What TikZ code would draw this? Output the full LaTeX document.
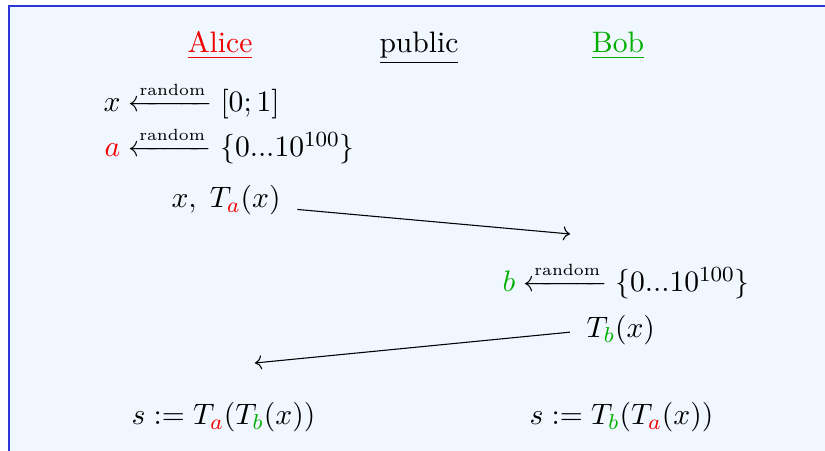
\documentclass[tikz,border=0pt,11pt]{standalone}
\usepackage{amsmath}
\usetikzlibrary{arrows.meta}
\definecolor{alicered}{RGB}{240,0,0}
\definecolor{bobgreen}{RGB}{0,175,0}
\definecolor{boxfill}{RGB}{240,247,255}
\definecolor{boxblue}{RGB}{45,55,215}
\newcommand{\keya}{{\color{alicered}a}}
\newcommand{\keyb}{{\color{bobgreen}b}}
\newcommand{\rnd}{\xleftarrow{\text{\tiny random}}}

\begin{document}
\begin{tikzpicture}[x=0.37pt,y=-0.37pt,>=To,txt/.style={inner sep=0pt,anchor=base west}]
\useasboundingbox (0,0) rectangle (825,451);
\fill[boxfill] (9,6) rectangle (825,451);
\draw[boxblue,line width=0.6pt] (9,451)--(9,6)--(825,6);
% parties
\node[anchor=base] (alice) at (220,53) {\textcolor{alicered}{\underline{Alice}}};
\node[anchor=base] (public) at (419,53) {\underline{public}};
\node[anchor=base] (bob) at (618,53) {\textcolor{bobgreen}{\underline{Bob}}};
% Alice
\node[txt] (xrand) at (103,112) {$x \rnd [0;1]$};
\node[txt] (arand) at (104,157) {$\keya \rnd \{0...10^{100}\}$};
\node[txt] (sendA) at (171,208) {$x,\;T_{\keya}(x)$};
\coordinate (recvB) at (570,234);
\draw[->,shorten <=6pt] (sendA.base east)--(recvB);
% Bob
\node[txt] (brand) at (502,292) {$\keyb \rnd \{0...10^{100}\}$};
\node[txt] (sendB) at (586,338) {$T_{\keyb}(x)$};
\coordinate (recvA) at (255,363);
\draw[->,shorten <=6pt] (sendB.west)--(recvA);
% shared key
\node[txt] (keyA) at (131,425) {$s := T_{\keya}(T_{\keyb}(x))$};
\node[txt] (keyB) at (529,425) {$s := T_{\keyb}(T_{\keya}(x))$};
\end{tikzpicture}
\end{document}
